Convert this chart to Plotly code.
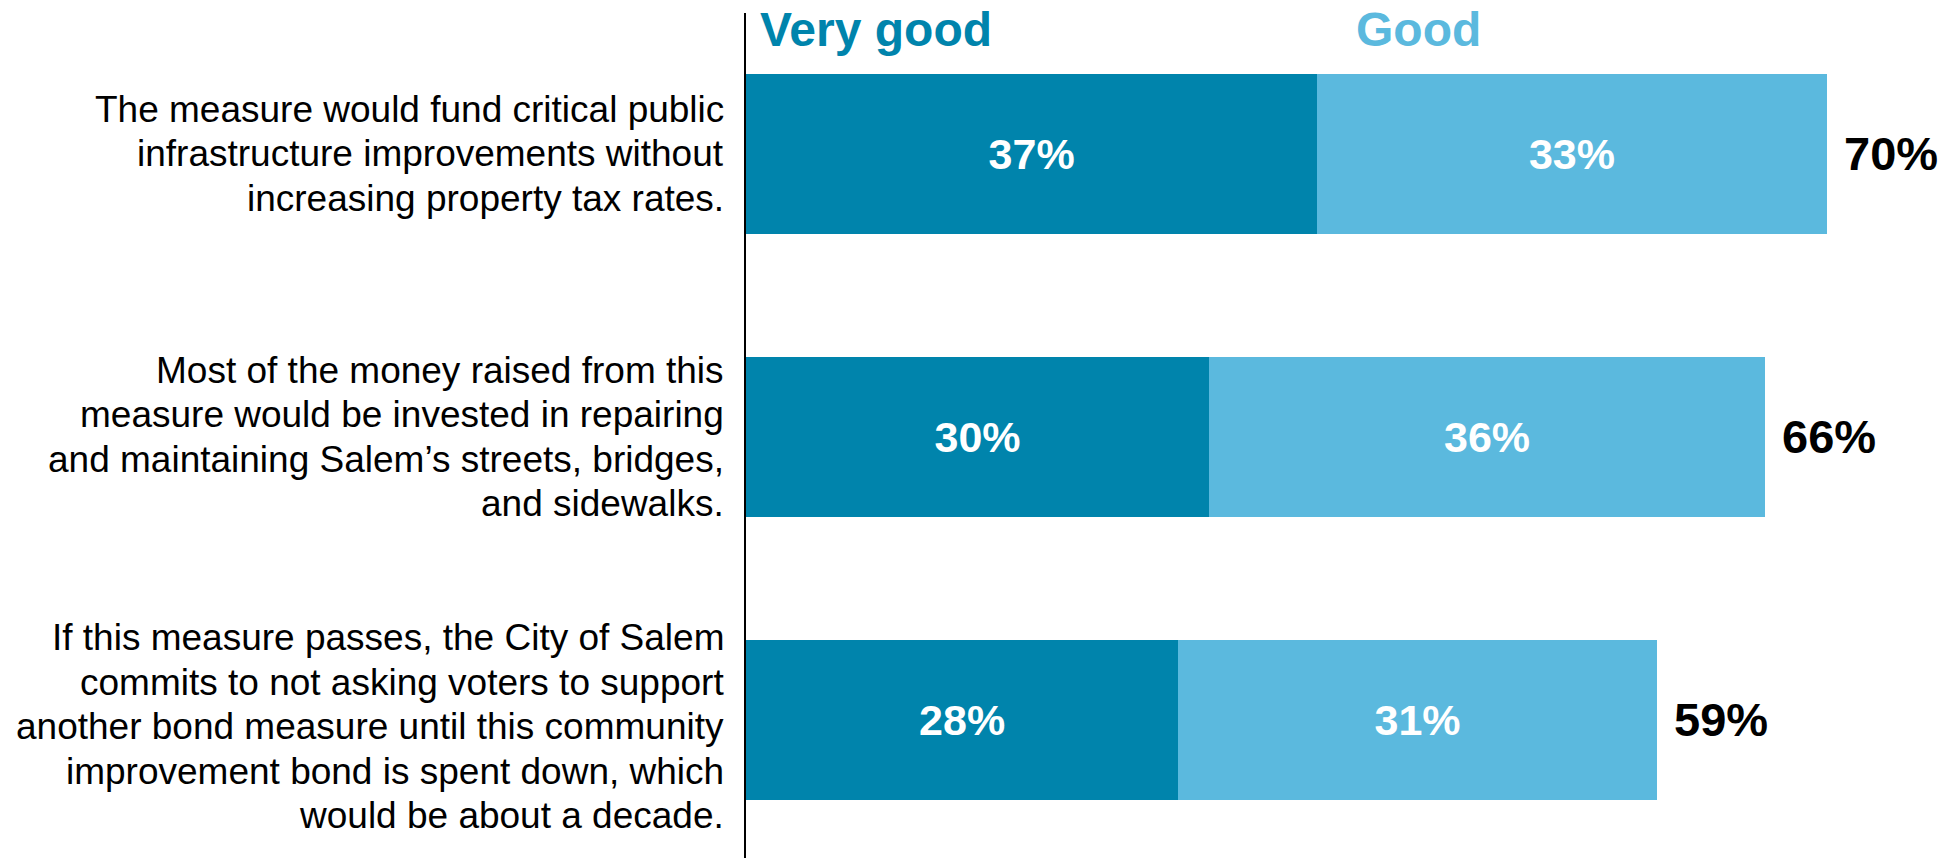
import plotly.graph_objects as go

# ---- data ----
statements = [
    "The measure would fund critical public<br>infrastructure improvements without<br>increasing property tax rates.",
    "Most of the money raised from this<br>measure would be invested in repairing<br>and maintaining Salem’s streets, bridges,<br>and sidewalks.",
    "If this measure passes, the City of Salem<br>commits to not asking voters to support<br>another bond measure until this community<br>improvement bond is spent down, which<br>would be about a decade.",
]
very_good = [37, 30, 28]
good = [33, 36, 31]
totals = [70, 66, 59]
series_names = ["Very good", "Good"]

# ---- style ----
FONT = "Liberation Sans, Arial, sans-serif"
C_DARK = "#0084AC"
C_LIGHT = "#5BB9DE"
LINE_H = 44.5
LABEL_SHIFT = [0, 0, -7]   # px vertical nudge of each statement block

idx = list(range(len(statements)))

fig = go.Figure()
for name, vals, col in [(series_names[0], very_good, C_DARK), (series_names[1], good, C_LIGHT)]:
    fig.add_trace(go.Bar(
        y=idx, x=vals, orientation="h", name=name,
        marker=dict(color=col, line=dict(width=0)),
        width=0.565,
        text=[f"{v}%" for v in vals],
        textposition="inside", insidetextanchor="middle",
        textangle=0, constraintext="none",
        textfont=dict(family=FONT, size=43, color="white", weight="bold"),
        hoverinfo="skip",
    ))

annotations = []
# totals
for i, t in enumerate(totals):
    annotations.append(dict(
        x=t, y=i, xref="x", yref="y", text=f"{t}%", showarrow=False,
        xanchor="left", yanchor="middle", xshift=15,
        font=dict(family=FONT, size=47, color="black", weight="bold"),
    ))

# statement labels, one annotation per line
for i, s in enumerate(statements):
    lines = s.split("<br>")
    n = len(lines)
    for k, ln in enumerate(lines):
        annotations.append(dict(
            x=0, y=i, xref="paper", yref="y", text=ln, showarrow=False,
            xanchor="right", yanchor="middle", xshift=-20,
            yshift=-(k - (n - 1) / 2) * LINE_H + LABEL_SHIFT[i],
            font=dict(family=FONT, size=37, color="black"),
        ))

# series headers
annotations.append(dict(
    x=0.8, y=0.981, xref="x", yref="paper", text=series_names[0], showarrow=False,
    xanchor="left", yanchor="middle",
    font=dict(family=FONT, size=48, color=C_DARK, weight="bold"),
))
annotations.append(dict(
    x=39.4, y=0.981, xref="x", yref="paper", text=series_names[1], showarrow=False,
    xanchor="left", yanchor="middle",
    font=dict(family=FONT, size=48, color=C_LIGHT, weight="bold"),
))

fig.update_layout(
    width=1944, height=858,
    barmode="stack",
    showlegend=False,
    plot_bgcolor="white", paper_bgcolor="white",
    margin=dict(l=746, r=0, t=13, b=0),
    xaxis=dict(range=[0, 77.6], showgrid=False, zeroline=False,
               showticklabels=False, showline=False, ticks=""),
    yaxis=dict(range=[2.488, -0.498], showgrid=False, zeroline=False,
               showticklabels=False, ticks="",
               showline=True, linecolor="black", linewidth=2),
    annotations=annotations,
    hovermode=False,
)

fig.write_html("out.html", config={"displayModeBar": False},
               post_script="document.body.style.margin='0';")
